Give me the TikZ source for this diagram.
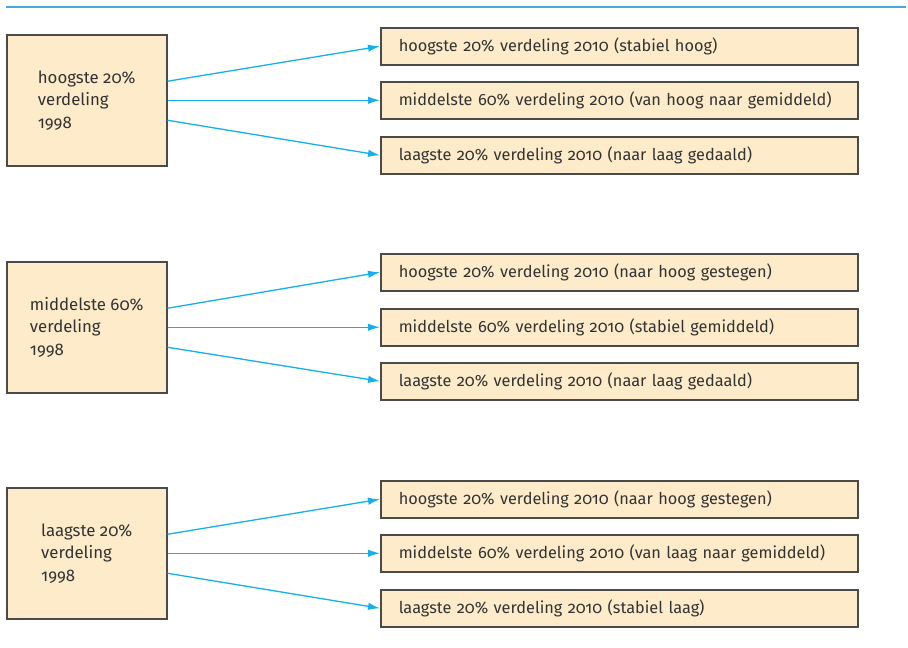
\documentclass[tikz,border=0pt]{standalone}
\usepackage{fontspec}
\setmainfont[Numbers=OldStyle]{Fira Sans}
\usetikzlibrary{arrows.meta, positioning}

\definecolor{boxfill}{HTML}{FDEBC9}
\definecolor{boxline}{HTML}{4A4A4A}
\definecolor{arrowblue}{HTML}{14B0EE}
\definecolor{rulblue}{HTML}{4BA6DC}
\definecolor{txt}{HTML}{333333}

\tikzset{
    yearbox/.style={draw=boxline, fill=boxfill, line width=1.5pt, text=txt,
        font=\fontsize{16.8}{22.5}\selectfont, align=left, minimum width=160pt,
        minimum height=131pt, anchor=north west},
    outbox/.style={draw=boxline, fill=boxfill, line width=1.5pt, text=txt,
        font=\fontsize{16.3}{18}\selectfont, align=left, text width=441pt,
        inner xsep=18pt, minimum height=37pt, anchor=north west},
    flow/.style={draw=arrowblue, line width=1.3pt, -{Latex[length=12pt,width=7.5pt]}}
}

\begin{document}
\begin{tikzpicture}[x=1pt, y=-1pt]
    \useasboundingbox (0,0) rectangle (908,648);

    % Draw the rule at the top
    \coordinate (R1) at (6,7);
    \coordinate (R2) at (906,7);
    \draw[rulblue, line width=1.2pt] (R1) -- (R2);

    % Place the 1998 boxes
    \node[yearbox] (hoog) at (6,34) {hoogste 20\%\\verdeling\\1998};
    \node[yearbox] (midden) at (6,261) {middelste 60\%\\verdeling\\1998};
    \node[yearbox] (laag) at (6,487) {laagste 20\%\\verdeling\\1998};

    % Place the 2010 boxes
    \node[outbox] (hoogH) at (380,27) {hoogste 20\% verdeling 2010 (stabiel hoog)};
    \node[outbox] (hoogM) at (380,81) {middelste 60\% verdeling 2010 (van hoog naar gemiddeld)};
    \node[outbox] (hoogL) at (380,136) {laagste 20\% verdeling 2010 (naar laag gedaald)};

    \node[outbox] (middenH) at (380,253) {hoogste 20\% verdeling 2010 (naar hoog gestegen)};
    \node[outbox] (middenM) at (380,308) {middelste 60\% verdeling 2010 (stabiel gemiddeld)};
    \node[outbox] (middenL) at (380,362) {laagste 20\% verdeling 2010 (naar laag gedaald)};

    \node[outbox] (laagH) at (380,480) {hoogste 20\% verdeling 2010 (naar hoog gestegen)};
    \node[outbox] (laagM) at (380,534) {middelste 60\% verdeling 2010 (van laag naar gemiddeld)};
    \node[outbox] (laagL) at (380,589) {laagste 20\% verdeling 2010 (stabiel laag)};

    % Draw the arrows
    \draw[flow] ([yshift=19pt]hoog.east) -- (hoogH.west);
    \draw[flow] (hoog.east |- hoogM.west) -- (hoogM.west);
    \draw[flow] ([yshift=-20pt]hoog.east) -- (hoogL.west);

    \draw[flow] ([yshift=19pt]midden.east) -- (middenH.west);
    \draw[flow] (midden.east |- middenM.west) -- (middenM.west);
    \draw[flow] ([yshift=-20pt]midden.east) -- (middenL.west);

    \draw[flow] ([yshift=19pt]laag.east) -- (laagH.west);
    \draw[flow] (laag.east |- laagM.west) -- (laagM.west);
    \draw[flow] ([yshift=-20pt]laag.east) -- (laagL.west);

\end{tikzpicture}
\end{document}
